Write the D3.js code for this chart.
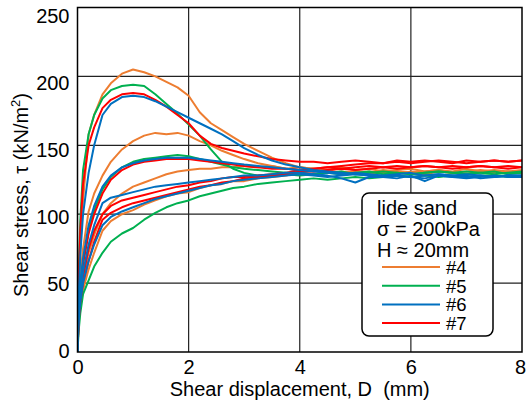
<!DOCTYPE html>
<html><head><meta charset="utf-8">
<script src="https://cdn.jsdelivr.net/npm/d3@7"></script>
<style>body{margin:0;background:#fff}svg{display:block;font-family:"Liberation Sans",Arial,sans-serif}</style>
</head><body><svg id="c" width="526" height="402"></svg>
<script>
// Shear displacement grid (mm)
const displacement = [0,0.02,0.05,0.1,0.2,0.3,0.45,0.6,0.8,1.0,1.2,1.4,1.6,1.8,2.0,2.2,2.4,2.6,2.8,3.0,3.25,3.5,3.75,4.0,4.25,4.5,4.75,5.0,5.25,5.5,5.75,6.0,6.25,6.5,6.75,7.0,7.25,7.5,7.75,8.0];
// Shear stress (kN/m2), several tests per series
const series4 = [
 [0,45,75,110,158,172,187,195,202,205,203,200,196,192,186,174,166,161,156,151,146,141,137,134,133,131,130,131,129,130,131,130,129,131,130,129,131,130,131,130],
 [0,35,55,75,102,115,128,138,147,153,157,159,158,159,157,153,150,146,143,140,137,135,133,132,131,132,130,131,130,132,131,130,131,132,130,131,132,131,130,131],
 [0,25,40,55,72,85,100,108,115,120,123,126,129,131,132,133,133,134,134,135,134,135,133,134,133,132,134,132,133,131,132,133,131,132,131,133,131,132,131,132],
 [0,20,32,45,60,72,88,95,100,103,107,110,113,115,116,119,121,122,124,124,126,127,128,130,129,130,131,130,131,130,129,131,130,131,130,129,131,130,131,130]
];
const series5 = [
 [0,55,95,132,158,172,184,190,193,194,193,187,180,173,165,157,147,138,133,130,128,128,129,128,129,130,129,130,131,129,130,129,130,131,130,129,130,131,129,130],
 [0,30,48,65,88,103,118,127,134,138,140,141,142,143,142,140,138,136,134,133,132,131,130,130,129,130,131,129,130,131,130,129,130,131,130,131,130,129,130,131],
 [0,15,28,42,52,62,72,80,86,90,96,101,105,108,110,113,115,117,119,120,122,123,124,125,126,125,126,127,126,127,128,127,128,127,128,127,128,128,127,128]
];
const series6 = [
 [0,40,70,100,130,150,172,180,185,186,185,182,178,174,170,166,162,158,153,148,143,139,136,134,132,131,130,129,128,127,128,127,126,128,127,128,126,127,128,127],
 [0,32,50,68,92,106,120,128,134,137,139,140,141,141,141,140,139,138,137,136,135,134,133,132,131,130,129,130,129,128,129,130,128,129,128,129,128,127,128,128],
 [0,28,44,58,78,92,108,112,114,116,118,120,121,122,123,124,125,126,127,128,128,129,130,130,129,128,126,123,127,127,126,128,124,128,127,126,127,128,127,127],
 [0,22,36,50,66,78,92,98,102,105,108,111,113,115,117,119,121,122,124,125,126,127,128,129,128,127,128,129,128,127,128,127,128,129,128,127,128,127,128,128]
];
const series7 = [
 [0,50,88,122,150,163,177,183,187,188,187,183,178,172,166,157,151,148,146,144,142,140,139,138,138,137,138,139,138,137,139,138,139,138,137,139,138,139,138,139],
 [0,30,47,64,86,100,115,125,132,136,138,139,140,140,140,139,138,137,136,135,134,133,133,132,133,134,133,134,135,134,135,134,135,134,135,134,135,134,135,134],
 [0,25,40,55,75,88,100,106,110,112,114,116,118,120,121,123,124,126,127,127,128,129,130,132,133,134,135,136,137,137,138,137,138,139,138,137,138,139,138,139],
 [0,22,36,50,66,80,96,101,105,108,110,112,114,116,118,120,121,123,124,126,127,128,129,131,131,132,133,132,133,134,133,134,135,134,133,134,135,134,133,134]
];
const seriesNames = ["#4","#5","#6","#7"];
const seriesColors = ["#ED7D31","#00B050","#0070C0","#FF0000"];
const xTicks = [0,2,4,6,8];
const yTicks = [0,50,100,150,200,250];
const legendLines = ["lide sand","σ = 200kPa","H ≈ 20mm"];

const svg = d3.select("#c");
const L = 77.5, R = 522, T = 7.5, B = 352;
const x = d3.scaleLinear().domain([0,8]).range([L,R]);
const y = d3.scaleLinear().domain([0,250]).range([B,T]);

// grid
svg.append("g").selectAll("line").data(xTicks.slice(1,-1)).join("line")
  .attr("x1",d=>x(d)).attr("x2",d=>x(d)).attr("y1",T).attr("y2",B)
  .attr("stroke","#222").attr("stroke-width",1.2);
svg.append("g").selectAll("line").data(yTicks.slice(1,-1)).join("line")
  .attr("y1",d=>y(d)).attr("y2",d=>y(d)).attr("x1",L).attr("x2",R)
  .attr("stroke","#222").attr("stroke-width",1.2);

svg.append("clipPath").attr("id","clip").append("rect")
  .attr("x",L).attr("y",T).attr("width",R-L).attr("height",B-T);

const line = d3.line().x((d,i)=>x(displacement[i])).y(d=>y(d));
const all = [series4, series5, series7, series6];
const cols = [seriesColors[0],seriesColors[1],seriesColors[3],seriesColors[2]];
const gl = svg.append("g").attr("clip-path","url(#clip)");
all.forEach((s,k)=>{
  gl.append("g").selectAll("path").data(s).join("path")
    .attr("d",line).attr("fill","none").attr("stroke",cols[k])
    .attr("stroke-width",2).attr("stroke-linejoin","round");
});

// frame
svg.append("rect").attr("x",L).attr("y",T).attr("width",R-L).attr("height",B-T)
  .attr("fill","none").attr("stroke","#000").attr("stroke-width",1.5);

// axes labels
const xAxis = d3.axisBottom(x).tickValues(xTicks).tickSize(0).tickPadding(8);
const gx = svg.append("g").attr("transform",`translate(0,${B})`).call(xAxis);
gx.select(".domain").remove();
gx.selectAll("text").attr("font-size",20).attr("font-family","Liberation Sans, Arial, sans-serif").attr("fill","#000");
gx.selectAll(".tick").filter(d=>d===8).select("text").attr("dx",-2);
const yAxis = d3.axisLeft(y).tickValues(yTicks).tickSize(0).tickPadding(8);
const gy = svg.append("g").attr("transform",`translate(${L},0)`).call(yAxis);
gy.select(".domain").remove();
gy.selectAll("text").attr("font-size",20).attr("font-family","Liberation Sans, Arial, sans-serif").attr("fill","#000")
  .attr("dy",d=>(0.36*20 + 7.5*d/250 - 2*(1-d/250)).toFixed(1));

svg.append("text").attr("x",(L+R)/2).attr("y",396).attr("text-anchor","middle")
  .attr("font-size",20).attr("xml:space","preserve").text("Shear displacement, D  (mm)");
const yt = svg.append("text").attr("transform","translate(28,195) rotate(-90)")
  .attr("text-anchor","middle").attr("font-size",20);
yt.append("tspan").text("Shear stress, τ (kN/m");
yt.append("tspan").attr("font-size",13).attr("dy",-8).text("2");
yt.append("tspan").attr("dy",8).text(")");

// legend
const lg = svg.append("g");
lg.append("rect").attr("x",362).attr("y",193).attr("width",131).attr("height",143)
  .attr("rx",7).attr("fill","#fff").attr("stroke","#000").attr("stroke-width",1.5);
lg.selectAll("text.h").data(legendLines).join("text").attr("class","h")
  .attr("x",377).attr("y",(d,i)=>215+i*21).attr("font-size",20).text(d=>d);
seriesNames.forEach((n,i)=>{
  const yy = 267+i*18.7;
  lg.append("line").attr("x1",382).attr("x2",440).attr("y1",yy).attr("y2",yy)
    .attr("stroke",seriesColors[i]).attr("stroke-width",2);
  lg.append("text").attr("x",446).attr("y",yy+7).attr("font-size",18.5).text(n);
});
</script></body></html>
